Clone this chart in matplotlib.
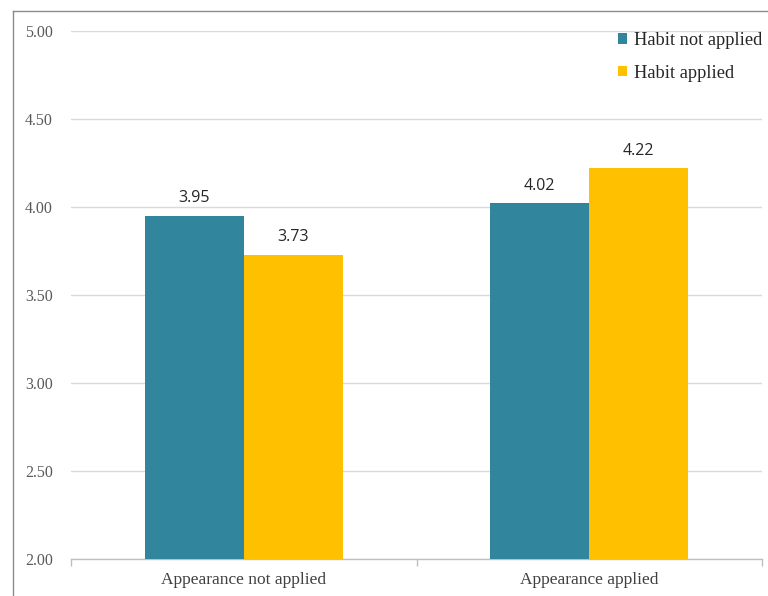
import matplotlib
matplotlib.use("Agg")
import matplotlib.pyplot as plt
from matplotlib.lines import Line2D
import numpy as np

categories = ["Appearance not applied", "Appearance applied"]
series_names = ["Habit not applied", "Habit applied"]
habit_not_applied = [3.95, 4.02]
habit_applied = [3.73, 4.22]
y_ticks = [2.00, 2.50, 3.00, 3.50, 4.00, 4.50, 5.00]

teal = "#31859C"
gold = "#FFC000"
serif = ["Liberation Serif", "DejaVu Serif"]
sans = ["Open Sans", "DejaVu Sans"]

W, H = 768, 596
fig = plt.figure(figsize=(W / 100, H / 100), dpi=100)
ax = fig.add_axes([71 / W, 1 - 559 / H, (762 - 71) / W, (559 - 31) / H])

# outer chart frame (left and top edges visible)
frame_kw = dict(color="#8c8c8c", linewidth=1.0, transform=fig.transFigure)
fig.add_artist(Line2D([13 / W, 13 / W], [0, 1 - 11 / H], **frame_kw))
fig.add_artist(Line2D([13 / W, 1.0], [1 - 11 / H, 1 - 11 / H], **frame_kw))

x = np.arange(len(categories))
bw = 0.286
b1 = ax.bar(x - bw / 2, habit_not_applied, bw, color=teal, label=series_names[0], zorder=3)
b2 = ax.bar(x + bw / 2, habit_applied, bw, color=gold, label=series_names[1], zorder=3)

for bars, vals in ((b1, habit_not_applied), (b2, habit_applied)):
    for rect, v in zip(bars, vals):
        ax.annotate(f"{v:.2f}", (rect.get_x() + rect.get_width() / 2, v),
                    xytext=(0, 7), textcoords="offset points",
                    ha="center", va="bottom", fontsize=11.5,
                    family=sans, color="#262626")

ax.set_ylim(2.0, 5.0)
ax.set_xlim(-0.5, len(categories) - 0.5)
ax.set_yticks(y_ticks)
ax.set_yticklabels([f"{t:.2f}" for t in y_ticks], family=serif, fontsize=11.5, color="#595959")
ax.yaxis.grid(True, color="#d9d9d9", linewidth=1.0, zorder=0)
ax.tick_params(axis="y", length=0, pad=13)

ax.set_xticks(x)
ax.set_xticklabels(categories, family=serif, fontsize=12.5, color="#404040")
ax.tick_params(axis="x", which="major", length=0, pad=9)
ax.set_xticks([-0.5, 0.5, 1.5], minor=True)
ax.tick_params(axis="x", which="minor", length=5, color="#bfbfbf", width=1)

for s in ("top", "right", "left"):
    ax.spines[s].set_visible(False)
ax.spines["bottom"].set_color("#bfbfbf")
ax.spines["bottom"].set_linewidth(1.0)

leg = ax.legend(loc="upper right", bbox_to_anchor=(1.0, 0.998), frameon=False,
                prop={"family": serif, "size": 13.2}, handlelength=0.5,
                handleheight=0.5, handletextpad=0.35, labelspacing=0.85,
                borderpad=0.0, borderaxespad=0.0, labelcolor="#262626")

fig.savefig("out.png", dpi=100)
